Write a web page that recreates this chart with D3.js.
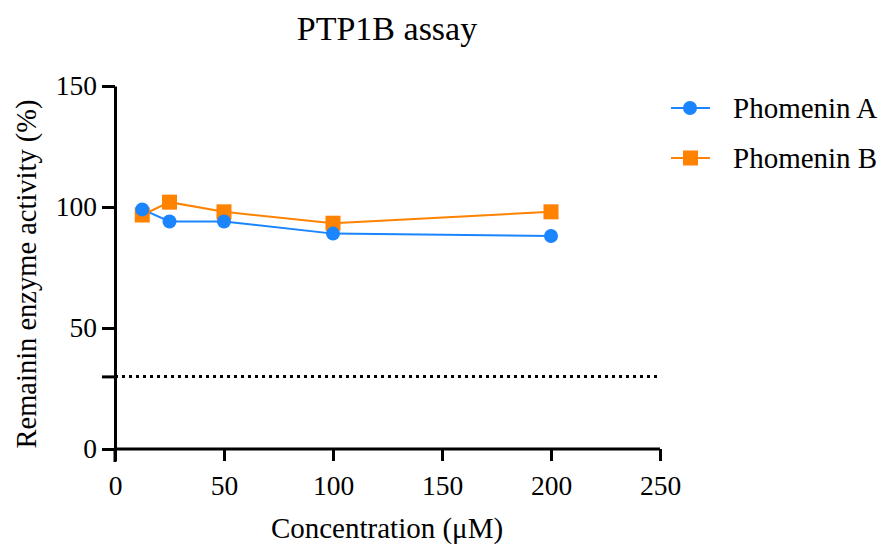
<!DOCTYPE html>
<html><head><meta charset="utf-8">
<script src="https://cdn.jsdelivr.net/npm/d3@7"></script>
<style>body{margin:0;background:#fff}text{font-family:"Liberation Serif","Times New Roman",serif;fill:#000}</style>
</head><body><svg id="c" width="879" height="544"></svg>
<script>
const concentrations=[12.5,25,50,100,200];
const phomeninA=[99,94,94,89,88];
const phomeninB=[96.7,102,98,93.3,98];
const seriesNames=["Phomenin A","Phomenin B"];
const xTicks=[0,50,100,150,200,250];
const yTicks=[0,50,100,150];
const threshold=30;
const colors=["#1a85ff","#ff8200"];

const svg=d3.select("#c");
const x=d3.scaleLinear().domain([0,250]).range([115,660]);
const y=d3.scaleLinear().domain([0,150]).range([449,86]);

// title
svg.append("text").attr("x",387).attr("y",40).attr("text-anchor","middle").style("font-size","34px").text("PTP1B assay");

// axes
const xa=svg.append("g").attr("transform","translate(0,449)")
 .call(d3.axisBottom(x).tickValues(xTicks).tickSize(12).tickPadding(14).tickSizeOuter(0));
const ya=svg.append("g").attr("transform","translate(115,0)")
 .call(d3.axisLeft(y).tickValues(yTicks.concat([threshold])).tickSize(13).tickPadding(5).tickSizeOuter(0)
   .tickFormat(d=>yTicks.includes(d)?d:""));
[xa,ya].forEach(g=>{g.selectAll("path,line").attr("stroke","#000").attr("stroke-width",3);
 g.selectAll("text").style("font-size","27.5px").style("font-family","Liberation Serif").attr("fill","#000");});
// extend y axis below x axis
svg.append("line").attr("x1",115).attr("x2",115).attr("y1",449).attr("y2",462).attr("stroke","#000").attr("stroke-width",3);
xa.select("path").attr("d",`M${x(0)},0H${x(250)}`);

// threshold dotted line
svg.append("line").attr("x1",x(0)).attr("x2",x(250)).attr("y1",y(threshold)).attr("y2",y(threshold))
 .attr("stroke","#000").attr("stroke-width",3).attr("stroke-dasharray","3,4");

// axis labels
svg.append("text").attr("x",387).attr("y",538).attr("text-anchor","middle").style("font-size","29px").text("Concentration (μM)");
svg.append("text").attr("transform","translate(36,274) rotate(-90)").attr("text-anchor","middle").style("font-size","28.5px").text("Remainin enzyme activity (%)");

const data=[phomeninA,phomeninB];
const line=d3.line().x((d,i)=>x(concentrations[i])).y(d=>y(d));
data.forEach((vals,si)=>{
  svg.append("path").datum(vals).attr("d",line).attr("fill","none").attr("stroke",colors[si]).attr("stroke-width",2);
});
svg.selectAll(".sq").data(phomeninB).enter().append("rect")
 .attr("x",(d,i)=>x(concentrations[i])-7.5).attr("y",d=>y(d)-7.5).attr("width",15).attr("height",15).attr("fill",colors[1]);
svg.selectAll(".ci").data(phomeninA).enter().append("circle")
 .attr("cx",(d,i)=>x(concentrations[i])).attr("cy",d=>y(d)).attr("r",7).attr("fill",colors[0]);

// legend
const lg=svg.append("g");
[0,1].forEach(i=>{
  const yy=108+i*50;
  lg.append("line").attr("x1",671).attr("x2",710).attr("y1",yy).attr("y2",yy).attr("stroke",colors[i]).attr("stroke-width",2);
  if(i===0) lg.append("circle").attr("cx",690).attr("cy",yy).attr("r",7).attr("fill",colors[i]);
  else lg.append("rect").attr("x",683).attr("y",yy-7.5).attr("width",15).attr("height",15).attr("fill",colors[i]);
  lg.append("text").attr("x",733).attr("y",yy+10).style("font-size","29px").text(seriesNames[i]);
});
</script></body></html>
